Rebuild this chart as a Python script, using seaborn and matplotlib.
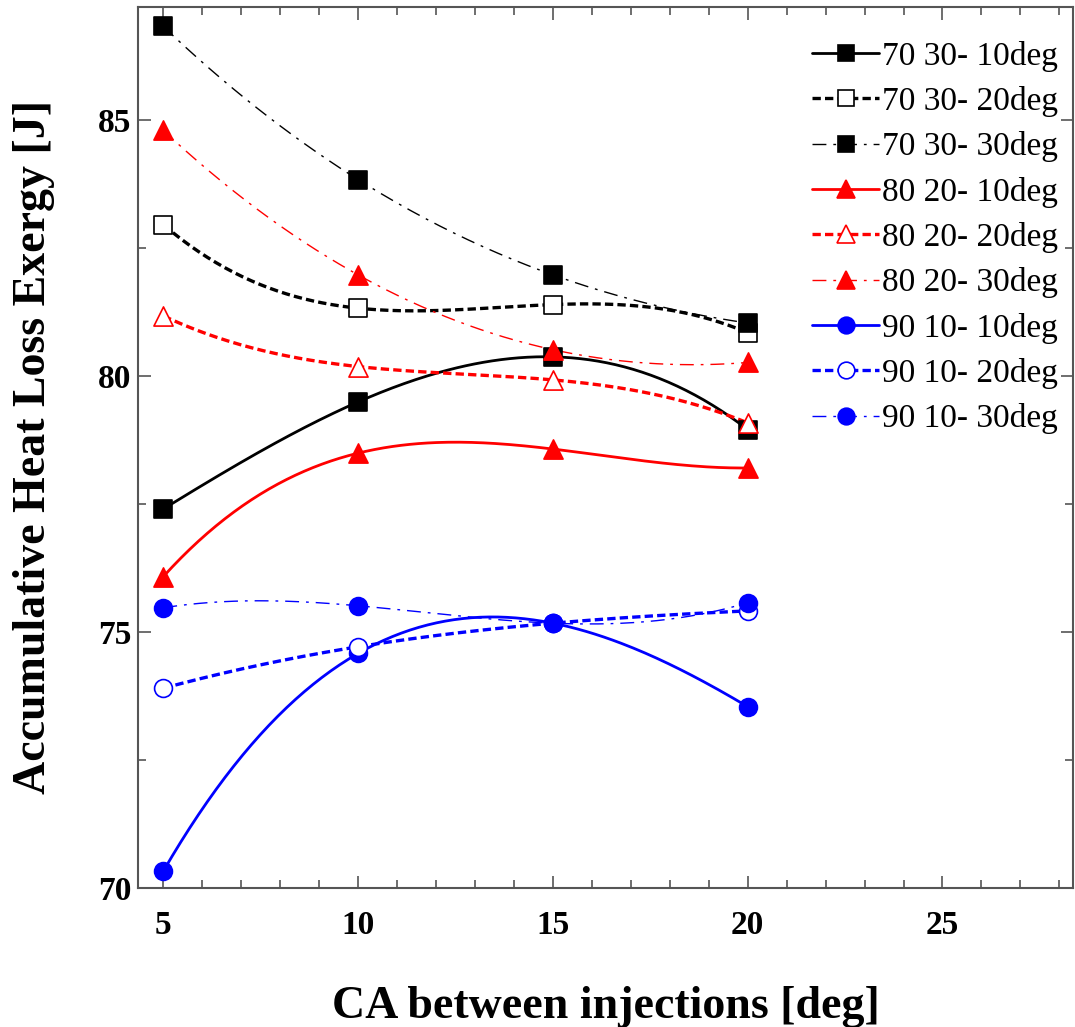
import numpy as np
import pandas as pd
import matplotlib
matplotlib.use("Agg")
import matplotlib.pyplot as plt
from matplotlib.lines import Line2D
from matplotlib.ticker import MultipleLocator
import seaborn as sns

# CA between injections [deg]
ca = [5, 10, 15, 20]

labels = ["70 30- 10deg", "70 30- 20deg", "70 30- 30deg",
          "80 20- 10deg", "80 20- 20deg", "80 20- 30deg",
          "90 10- 10deg", "90 10- 20deg", "90 10- 30deg"]

s70_10 = [77.40, 79.49, 80.37, 78.95]
s70_20 = [82.95, 81.32, 81.39, 80.84]
s70_30 = [86.82, 83.83, 81.97, 81.03]
s80_10 = [76.08, 78.49, 78.57, 78.20]
s80_20 = [81.17, 80.18, 79.92, 79.08]
s80_30 = [84.79, 81.97, 80.51, 80.26]
s90_10 = [70.33, 74.58, 75.17, 73.54]
s90_20 = [73.90, 74.71, 75.17, 75.41]
s90_30 = [75.47, 75.51, 75.17, 75.57]

series = [s70_10, s70_20, s70_30, s80_10, s80_20, s80_30, s90_10, s90_20, s90_30]
colors = ["black"] * 3 + ["#ff0000"] * 3 + ["#0000ff"] * 3
markers = ["s"] * 3 + ["^"] * 3 + ["o"] * 3
filled = [True, False, True] * 3

# line style per injection timing (10 / 20 / 30 deg)
styles = {0: ("-", 2.0), 1: ((0, (6, 3)), 2.4), 2: ((0, (10, 5, 2, 5)), 1.0)}

plt.rcParams["lines.scale_dashes"] = False
sns.set_style("ticks")
plt.rcParams["font.family"] = ["Liberation Serif", "DejaVu Serif"]
plt.rcParams["text.color"] = "black"
plt.rcParams["axes.labelcolor"] = "black"

fig = plt.figure(figsize=(10.75, 10.27), dpi=100)
ax = fig.add_axes([138 / 1075, 1 - 888 / 1027, (1073 - 138) / 1075, (888 - 7) / 1027])

handles = []
for i, (lab, vals) in enumerate(zip(labels, series)):
    ls, lw = styles[i % 3]
    c = colors[i]
    # smooth connector through the four measured points
    coef = np.polyfit(ca, vals, 3)
    xs = np.linspace(ca[0], ca[-1], 200)
    curve = pd.DataFrame({"x": xs, "y": np.polyval(coef, xs)})
    sns.lineplot(data=curve, x="x", y="y", ax=ax, color=c, linewidth=lw,
                 linestyle=ls, sort=False, estimator=None, zorder=2 + i * 0.1)
    pts = pd.DataFrame({"x": ca, "y": vals})
    size = {"s": 150, "^": 190, "o": 165}[markers[i]]
    sns.scatterplot(data=pts, x="x", y="y", ax=ax, marker=markers[i], s=size,
                    color=c if filled[i] else "white", edgecolor=c,
                    linewidth=1.2, zorder=3 + i * 0.1)
    handles.append(Line2D([], [], color=c, linewidth=lw, linestyle=ls,
                          marker=markers[i], markersize=13 if markers[i] == "^" else 12,
                          markerfacecolor=c if filled[i] else "white",
                          markeredgecolor=c, markeredgewidth=1.2))

ax.set_xlim(4.35, 28.35)
ax.set_ylim(70, 87.2)
ax.xaxis.set_major_locator(MultipleLocator(5))
ax.xaxis.set_minor_locator(MultipleLocator(1))
ax.yaxis.set_major_locator(MultipleLocator(5))
ax.yaxis.set_minor_locator(MultipleLocator(2.5))
ax.tick_params(which="both", direction="in", top=True, right=True,
               color="#555555", width=1.2, labelcolor="black")
ax.tick_params(which="major", length=9, labelsize=24)
ax.tick_params(axis="x", which="major", pad=16)
ax.tick_params(axis="y", which="major", pad=5)
ax.tick_params(which="minor", length=6)
for t in ax.get_xticklabels() + ax.get_yticklabels():
    t.set_fontweight("bold")
for sp in ax.spines.values():
    sp.set_color("#555555")
    sp.set_linewidth(1.5)

ax.set_xlabel("CA between injections [deg]", fontsize=33, fontweight="bold")
ax.set_ylabel("Accumulative Heat Loss Exergy [J]", fontsize=33, fontweight="bold")
ax.xaxis.set_label_coords(0.5, (888 - 986) / 881)
ax.yaxis.set_label_coords((55 - 138) / 935, 0.5)

ax.legend(handles, labels, loc="upper right", frameon=False, fontsize=24,
          handlelength=2.0, handletextpad=0.1, labelspacing=0.43, borderpad=0,
          bbox_to_anchor=(1075 / 1075, 1 - 24 / 1027), bbox_transform=fig.transFigure)

fig.savefig("out.png", dpi=100)
